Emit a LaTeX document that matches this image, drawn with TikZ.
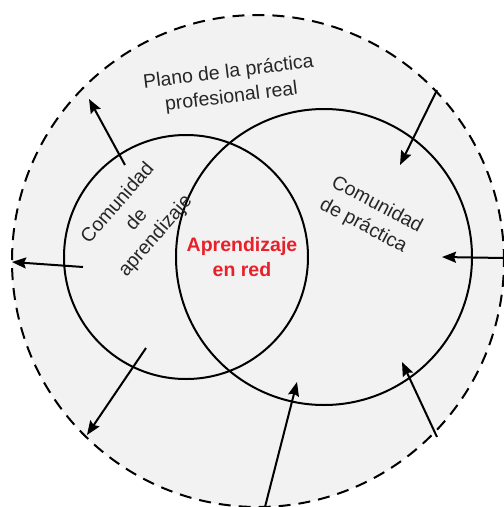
\documentclass[tikz,border=0pt]{standalone}
\usepackage{fontspec}
\setmainfont{Liberation Sans}
\usetikzlibrary{arrows.meta}

\begin{document}
\begin{tikzpicture}[x=1pt,y=-1pt,
  ring/.style={draw,circle,line width=2pt,inner sep=0pt},
  flow/.style={line width=2pt,-{Stealth[length=14pt,width=11pt,inset=2pt]}},
  lab/.style={align=center,text=black!85,font=\fontsize{19.5}{25}\selectfont}]
\definecolor{planeFill}{HTML}{F2F2F2}
\definecolor{netRed}{HTML}{E8202A}
\useasboundingbox (0,0) rectangle (504,507);
% plano de la practica
\fill[planeFill] (258,261) circle[radius=246pt];
\draw[line width=2pt,dash pattern=on 12pt off 8pt] (258,261) circle[radius=246pt];
% comunidades
\node[ring,minimum size=244pt] (learnC) at (186,257) {};
\node[ring,minimum size=296pt] (practC) at (324,257) {};
\node[lab,rotate=7] (planeLab) at (230,85) {Plano de la práctica\\profesional real};
\node[lab,rotate=49] (learnLab) at (137,220) {Comunidad\\de\\aprendizaje};
\node[lab,rotate=-28,align=left] (practLab) at (371,216) {Comunidad\\de práctica};
\node[lab,text=netRed,font=\fontsize{19.5}{25}\selectfont\bfseries] (netLab) at (242,257) {Aprendizaje\\en red};
% flechas
\foreach \sx/\sy/\ex/\ey [count=\i] in {125/165/89/99, 437/90/400/165, 504/258/442/257,
  83/267/12/262, 146/348/87/435, 265/507/297/382, 437/437/402/362} {
  \coordinate (from\i) at (\sx,\sy);
  \coordinate (to\i) at (\ex,\ey);
  \draw[flow] (from\i) -- (to\i);
}
\end{tikzpicture}
\end{document}
